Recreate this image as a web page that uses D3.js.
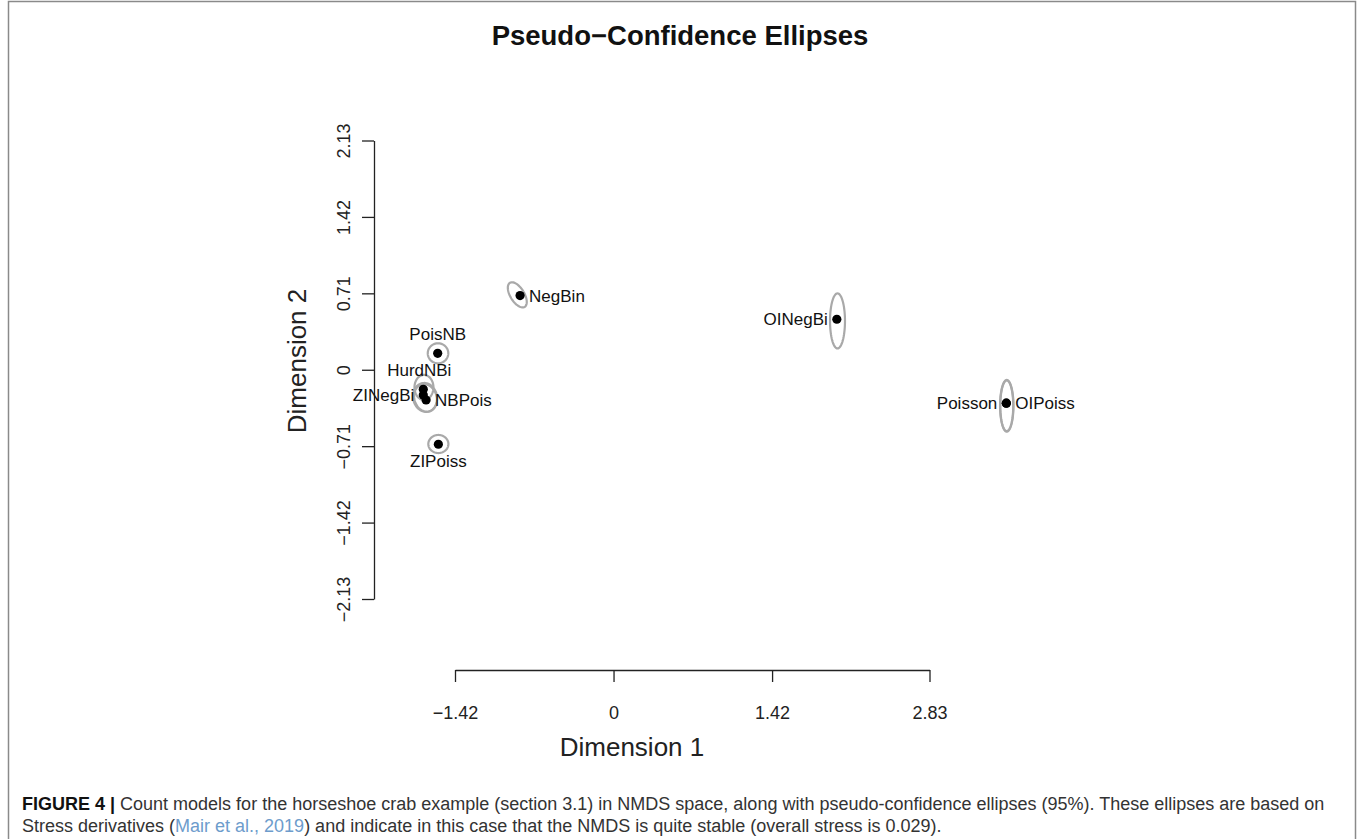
<!DOCTYPE html>
<html>
<head>
<meta charset="utf-8">
<script src="https://cdn.jsdelivr.net/npm/d3@7"></script>
<style>
  body { margin: 0; background: #fff; }
  svg { display: block; font-family: "Liberation Sans", Arial, sans-serif; }
</style>
</head>
<body>
<div id="chart"></div>
<script>
// NMDS configuration
var models = ["NegBin", "OINegBi", "Poisson", "OIPoiss", "PoisNB", "HurdNBi", "ZINegBi", "NBPois", "ZIPoiss"];
var dim1 = [-0.837, 2.000, 3.518, 3.518, -1.575, -1.704, -1.704, -1.679, -1.569];
var dim2 = [0.689, 0.469, -0.311, -0.311, 0.153, -0.181, -0.234, -0.281, -0.692];
// R text() pos codes: 1 below, 2 left, 3 above, 4 right
var labelPos = [4, 2, 2, 4, 3, 3, 2, 4, 1];

// pseudo-confidence ellipses (centre, semi-axes, rotation in degrees)
var ellX = [-0.862, 2.006, 3.522, 3.522, -1.572, -1.698, -1.688, -1.684, -1.569];
var ellY = [0.696, 0.4535, -0.335, -0.335, 0.153, -0.164, -0.257, -0.262, -0.690];
var ellA = [0.063, 0.067, 0.060, 0.058, 0.092, 0.085, 0.107, 0.100, 0.090];
var ellB = [0.130, 0.256, 0.240, 0.236, 0.093, 0.116, 0.135, 0.130, 0.084];
var ellAngle = [30, 0, 0, 0, 0, 0, 10, 15, 0];

var xTicks = [-1.42, 0, 1.42, 2.83];
var yTicks = [-2.13, -1.42, -0.71, 0, 0.71, 1.42, 2.13];

var width = 1360, height = 839;

var svg = d3.select("#chart").append("svg")
  .attr("width", width)
  .attr("height", height);

// figure frame
svg.append("rect")
  .attr("x", 8.5).attr("y", 1.5)
  .attr("width", 1347).attr("height", 860)
  .attr("fill", "none")
  .attr("stroke", "#8a8a8a")
  .attr("stroke-width", 1.5);

var x = d3.scaleLinear().domain([-1.42, 2.83]).range([455, 929.5]);
var y = d3.scaleLinear().domain([-2.13, 2.13]).range([599, 140.5]);

var fmt = function(d) { return d === 0 ? "0" : d3.format(".2f")(d); };

// title
svg.append("text")
  .attr("x", 680).attr("y", 45)
  .attr("text-anchor", "middle")
  .attr("font-size", 27.5)
  .attr("font-weight", "bold")
  .attr("fill", "#111")
  .text("Pseudo\u2212Confidence Ellipses");

// x axis
var xAxis = svg.append("g")
  .attr("transform", "translate(0,670)")
  .call(d3.axisBottom(x).tickValues(xTicks).tickFormat(fmt).tickSize(12).tickSizeOuter(0));
xAxis.selectAll("path, line").attr("stroke", "#222").attr("stroke-width", 1.3);
xAxis.selectAll("text")
  .attr("font-size", 18)
  .attr("font-family", "Liberation Sans, Arial, sans-serif")
  .attr("fill", "#222")
  .attr("y", 0).attr("dy", 0)
  .attr("transform", "translate(0,49)");

// y axis
var yAxis = svg.append("g")
  .attr("transform", "translate(374,0)")
  .call(d3.axisLeft(y).tickValues(yTicks).tickFormat(fmt).tickSize(12).tickSizeOuter(0));
yAxis.selectAll("path, line").attr("stroke", "#222").attr("stroke-width", 1.3);
yAxis.selectAll("text")
  .attr("font-size", 18)
  .attr("font-family", "Liberation Sans, Arial, sans-serif")
  .attr("fill", "#222")
  .attr("x", 0).attr("dy", 0)
  .attr("text-anchor", "middle")
  .attr("transform", "translate(-24,0) rotate(-90)");

// axis titles
svg.append("text")
  .attr("x", 632).attr("y", 756)
  .attr("text-anchor", "middle")
  .attr("font-size", 26)
  .attr("fill", "#222")
  .text("Dimension 1");

svg.append("text")
  .attr("transform", "translate(306,361) rotate(-90)")
  .attr("text-anchor", "middle")
  .attr("font-size", 26)
  .attr("fill", "#222")
  .text("Dimension 2");

// ellipses drawn through the scales
var line = d3.line().x(function(p) { return x(p[0]); }).y(function(p) { return y(p[1]); });
function ellipsePts(i) {
  var th = ellAngle[i] * Math.PI / 180, pts = [];
  for (var k = 0; k <= 72; k++) {
    var t = k / 72 * 2 * Math.PI;
    var ex = ellA[i] * Math.cos(t), ey = ellB[i] * Math.sin(t);
    pts.push([ellX[i] + ex * Math.cos(th) - ey * Math.sin(th),
              ellY[i] + ex * Math.sin(th) + ey * Math.cos(th)]);
  }
  return pts;
}
svg.append("g").selectAll("path")
  .data(d3.range(models.length))
  .enter().append("path")
  .attr("d", function(i) { return line(ellipsePts(i)); })
  .attr("fill", "none")
  .attr("stroke", "#a9a9a9")
  .attr("stroke-width", 2.2);

// points
svg.append("g").selectAll("circle")
  .data(d3.range(models.length))
  .enter().append("circle")
  .attr("cx", function(i) { return x(dim1[i]); })
  .attr("cy", function(i) { return y(dim2[i]); })
  .attr("r", 4.6)
  .attr("fill", "#000");

// labels
var off = 9;
svg.append("g").selectAll("text")
  .data(d3.range(models.length))
  .enter().append("text")
  .attr("font-size", 17)
  .attr("fill", "#111")
  .attr("x", function(i) {
    var px = x(dim1[i]);
    if (labelPos[i] === 2) return px - off;
    if (labelPos[i] === 4) return px + off;
    return px - (models[i] === "HurdNBi" ? 4 : 0);
  })
  .attr("y", function(i) {
    var py = y(dim2[i]);
    if (labelPos[i] === 3) return py - 13;
    if (labelPos[i] === 1) return py + 23;
    return py + 6;
  })
  .attr("text-anchor", function(i) {
    return labelPos[i] === 2 ? "end" : labelPos[i] === 4 ? "start" : "middle";
  })
  .text(function(i) { return models[i]; });

// caption
var cap1 = svg.append("text").attr("x", 22).attr("y", 810).attr("font-size", 18).attr("fill", "#333");
cap1.append("tspan").attr("font-weight", "bold").attr("fill", "#111").text("FIGURE 4 | ");
cap1.append("tspan").text("Count models for the horseshoe crab example (section 3.1) in NMDS space, along with pseudo-confidence ellipses (95%). These ellipses are based on");

var cap2 = svg.append("text").attr("x", 22).attr("y", 832).attr("font-size", 18).attr("fill", "#333");
cap2.append("tspan").text("Stress derivatives (");
cap2.append("tspan").attr("fill", "#6d9ccc").text("Mair et al., 2019");
cap2.append("tspan").text(") and indicate in this case that the NMDS is quite stable (overall stress is 0.029).");
</script>
</body>
</html>
